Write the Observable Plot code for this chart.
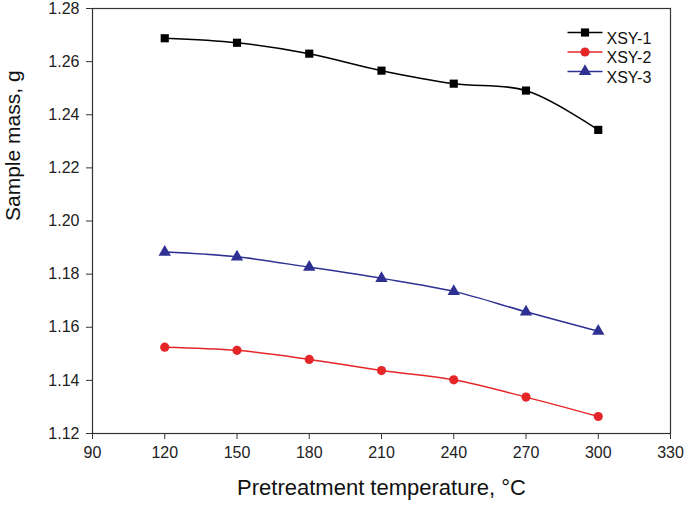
<!DOCTYPE html>
<html><head><meta charset="utf-8">
<script src="https://cdn.jsdelivr.net/npm/d3@7"></script>
<script src="https://cdn.jsdelivr.net/npm/@observablehq/plot@0.6"></script>
<style>body{margin:0;background:#fff}</style>
</head><body><div id="chart"></div>
<script>
const temps = [120, 150, 180, 210, 240, 270, 300];
const xsy1 = [1.2688, 1.2671, 1.2630, 1.2566, 1.2517, 1.2491, 1.2343];
const xsy2 = [1.1525, 1.1513, 1.1479, 1.1437, 1.1402, 1.1337, 1.1264];
const xsy3 = [1.1883, 1.1865, 1.1826, 1.1784, 1.1735, 1.1658, 1.1585];
const seriesNames = ["XSY-1", "XSY-2", "XSY-3"];
const seriesColors = ["#000000", "#e52629", "#2e3192"];
const seriesSymbols = ["square", "circle", "triangle"];
const xTicks = [90, 120, 150, 180, 210, 240, 270, 300, 330];
const yTicks = [1.12, 1.14, 1.16, 1.18, 1.20, 1.22, 1.24, 1.26, 1.28];

const values = [xsy1, xsy2, xsy3];
const data = [];
values.forEach((arr, s) => arr.forEach((v, i) => data.push({series: seriesNames[s], t: temps[i], m: v})));

const lineSymbol = {draw(ctx) { ctx.moveTo(-17.5, 0); ctx.lineTo(17.5, 0); }};
const legendMarks = seriesNames.flatMap((name, i) => {
  const dy = 24 + i * 19.5;
  const item = [{series: name}];
  return [
    Plot.dot(item, {frameAnchor: "top-right", dx: -85.5, dy, symbol: lineSymbol, stroke: "series", fill: "none", strokeWidth: 1.5, r: 5}),
    Plot.dot(item, {frameAnchor: "top-right", dx: -85.5, dy, symbol: "series", fill: "series", stroke: "none", r: 4.6}),
    Plot.text(item, {frameAnchor: "top-right", dx: -64, dy, text: "series", textAnchor: "start", fontSize: 16, fill: "#111"})
  ];
});

const font = "Liberation Sans, Arial, sans-serif";
const chart = Plot.plot({
  width: 685, height: 511,
  marginLeft: 92, marginRight: 15, marginTop: 8, marginBottom: 78,
  style: {fontFamily: font, fontSize: "16px", color: "#222", background: "#fff"},
  x: {domain: [90, 330], ticks: xTicks, label: null},
  y: {domain: [1.12, 1.28], ticks: yTicks, tickFormat: d3.format(".2f"), label: null},
  color: {domain: seriesNames, range: seriesColors},
  symbol: {domain: seriesNames, range: seriesSymbols},
  marks: [
    Plot.axisX({ticks: xTicks, tickSize: 6, tickPadding: 7, fontSize: 16, stroke: "#333", fill: "#222"}),
    Plot.axisY({ticks: yTicks, tickSize: 6, tickPadding: 7, fontSize: 16, tickFormat: d3.format(".2f"), stroke: "#333", fill: "#222"}),
    Plot.frame({stroke: "#333", strokeWidth: 1.2}),
    Plot.line(data, {x: "t", y: "m", z: "series", stroke: "series", curve: "catmull-rom", strokeWidth: 1.5}),
    Plot.dot(data, {x: "t", y: "m", fill: "series", symbol: "series", r: 4.6, stroke: "none"}),
    ...legendMarks,
    Plot.text(["Pretreatment temperature, °C"], {frameAnchor: "bottom", dy: 61, fontSize: 22, fill: "#111"}),
    Plot.text(["Sample mass, g"], {frameAnchor: "left", rotate: -90, dx: -79, fontSize: 21, fill: "#111"})
  ]
});
document.getElementById("chart").appendChild(chart);
</script></body></html>
